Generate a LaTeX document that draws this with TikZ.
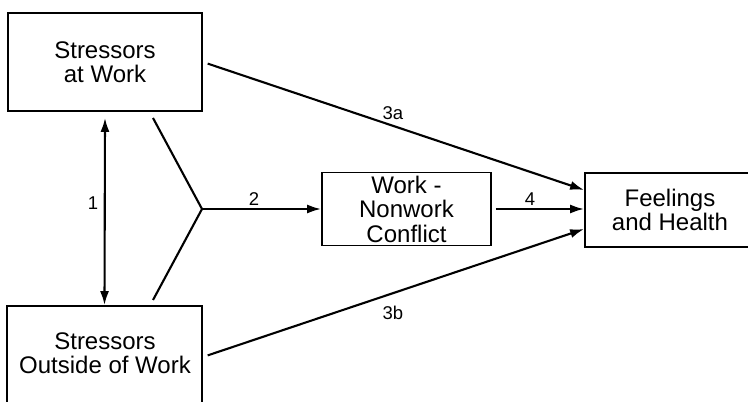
\documentclass[tikz,border=0pt]{standalone}
\usepackage{fontspec}
\setmainfont{Liberation Sans}
\usetikzlibrary{arrows.meta,calc}
\begin{document}
\begin{tikzpicture}[x=1pt,y=1pt,
  box/.style={draw,line width=1.8pt,inner sep=0pt,align=center,
    font=\fontsize{24}{24.5}\selectfont},
  txt/.style={inner sep=0pt,align=center,font=\fontsize{24}{24.5}\selectfont},
  lab/.style={inner sep=0pt,font=\fontsize{18.5}{19}\selectfont},
  conn/.style={line width=2.1pt},
  arr/.style={line width=2.1pt,-{Latex[length=14pt,width=9pt]}},
  darr/.style={line width=2.1pt,{Latex[length=14pt,width=9pt]}-{Latex[length=14pt,width=9pt]}}]
\useasboundingbox (0,0) rectangle (748,402);
\clip (0,0) rectangle (748,402);
\fill[white] (0,0) rectangle (748,402);
% boxes
\node[box,minimum width=194pt,minimum height=98pt] (sw) at (105,340) {Stressors\\at Work};
\node[box,minimum width=195pt,minimum height=102pt] (sow) at (104.5,45) {};
\node[txt] (sowt) at (105,49) {Stressors\\Outside of Work};
\node[box,minimum width=169pt,minimum height=73pt] (nc) at (406.5,193) {Work -\\Nonwork\\Conflict};
\node[box,minimum width=170pt,minimum height=74pt] (fh) at (670,192) {Feelings\\and Health};
% coordinates
\coordinate (J) at (202,193);
\coordinate (A) at (153,284);
\coordinate (B) at (153,102);
% connectors
\draw[conn,line join=miter] (A) -- (J) -- (B);
\draw[arr] (J) -- (J -| nc.west);
\draw[darr] ([yshift=-6pt]sw.south) -- (sow.north);
\draw[arr,shorten <=5pt] (sw.east) -- ([yshift=20pt]fh.west);
\draw[arr,shorten <=5pt] (sow.east) -- ([yshift=-19pt]fh.west);
\draw[arr,shorten <=4pt] (nc.east) -- (nc.east -| fh.west);
% labels
\node[lab] (l1) at (93,199) {1};
\node[lab] (l2) at (254,203) {2};
\node[lab] (l4) at (530,203) {4};
\node[lab] (l3a) at (393,289) {3a};
\node[lab] (l3b) at (393,89) {3b};
\end{tikzpicture}
\end{document}
